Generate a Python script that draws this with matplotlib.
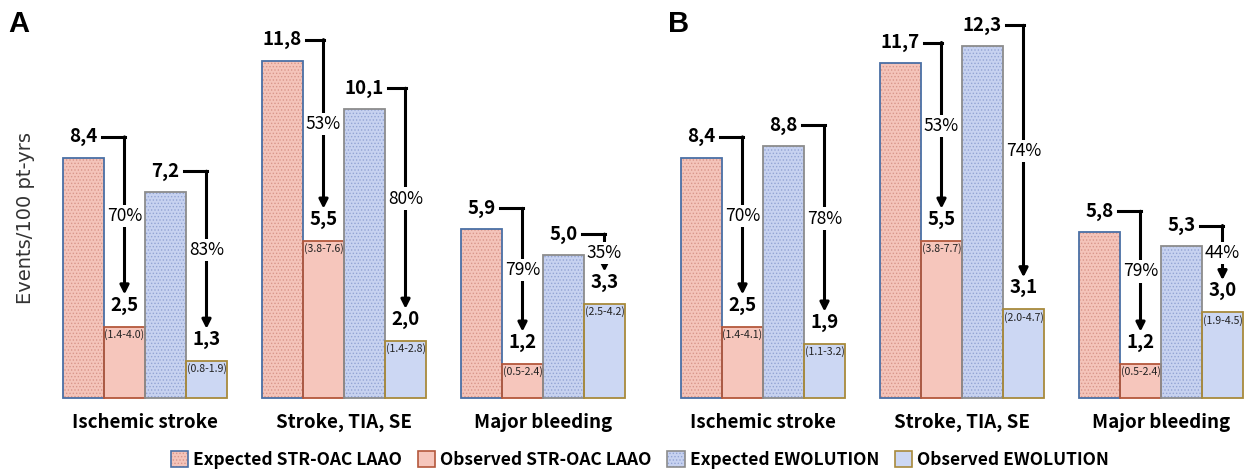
import numpy as np
import matplotlib
matplotlib.use("Agg")
import matplotlib.pyplot as plt
from matplotlib.patches import Patch

plt.rcParams['font.family'] = ['Noto Sans CJK JP', 'DejaVu Sans']
plt.rcParams['hatch.linewidth'] = 0.6

# data
categories = ['Ischemic stroke', 'Stroke, TIA, SE', 'Major bleeding']

exp_str_a = [8.4, 11.8, 5.9]
obs_str_a = [2.5, 5.5, 1.2]
exp_ewo_a = [7.2, 10.1, 5.0]
obs_ewo_a = [1.3, 2.0, 3.3]
ci_str_a = ['(1.4-4.0)', '(3.8-7.6)', '(0.5-2.4)']
ci_ewo_a = ['(0.8-1.9)', '(1.4-2.8)', '(2.5-4.2)']
red_str_a = ['70%', '53%', '79%']
red_ewo_a = ['83%', '80%', '35%']

exp_str_b = [8.4, 11.7, 5.8]
obs_str_b = [2.5, 5.5, 1.2]
exp_ewo_b = [8.8, 12.3, 5.3]
obs_ewo_b = [1.9, 3.1, 3.0]
ci_str_b = ['(1.4-4.1)', '(3.8-7.7)', '(0.5-2.4)']
ci_ewo_b = ['(1.1-3.2)', '(2.0-4.7)', '(1.9-4.5)']
red_str_b = ['70%', '53%', '79%']
red_ewo_b = ['78%', '74%', '44%']

legend_labels = ['Expected STR-OAC LAAO', 'Observed STR-OAC LAAO',
                 'Expected EWOLUTION', 'Observed EWOLUTION']

# styles: face, hatch colour, edge
STYLES = [
    dict(fc='#F4C4BA', hc='#D8968B', ec='#4A6FA5', hatch='.....'),
    dict(fc='#F6C6BC', hc=None, ec='#B4583C', hatch=None),
    dict(fc='#C7D2F0', hc='#93A4D4', ec='#8C8C8C', hatch='.....'),
    dict(fc='#CCD7F3', hc=None, ec='#A88A3C', hatch=None),
]

W, H = 1244, 473
PX_UNIT = 199.0
PX_Y = 28.6
BASE = 398
BW = 41 / PX_UNIT
YMAX = BASE / PX_Y

fig = plt.figure(figsize=(W / 100, H / 100), dpi=100)
renderer = fig.canvas.get_renderer()


def make_ax(center0_px):
    left = center0_px - 0.5 * PX_UNIT
    width = 2.92 * PX_UNIT
    ax = fig.add_axes([left / W, (H - BASE) / H, width / W, BASE / H])
    ax.set_xlim(-0.5, 2.42)
    ax.set_ylim(0, YMAX)
    ax.axis('off')
    return ax


def fmt(v):
    return f'{v:.1f}'.replace('.', ',')


def draw_bar(ax, x, h, st):
    if st['hatch']:
        ax.bar(x, h, BW, color=st['fc'], edgecolor=st['hc'], hatch=st['hatch'],
               linewidth=0, zorder=2, clip_on=False)
    else:
        ax.bar(x, h, BW, color=st['fc'], linewidth=0, zorder=2, clip_on=False)
    ax.bar(x, h, BW, fill=False, edgecolor=st['ec'], linewidth=1.3, zorder=3,
           clip_on=False)


def bracket(ax, x_exp, v_exp, x_obs, v_obs, pct):
    y0 = v_exp + 0.73
    t = ax.text(x_exp, y0, fmt(v_exp), ha='center', va='center', fontsize=13.5,
                fontweight='bold', zorder=5)
    bb = t.get_window_extent(renderer).transformed(ax.transData.inverted())
    x_start = bb.x1 + 0.02
    tip = v_obs + 1.12
    ax.plot([x_start, x_obs], [y0, y0], color='black', lw=2.2,
            solid_capstyle='projecting', zorder=4, clip_on=False)
    ax.annotate('', xy=(x_obs, tip), xytext=(x_obs, y0),
                arrowprops=dict(arrowstyle='-|>', lw=2.2, color='black',
                                mutation_scale=13, shrinkA=0, shrinkB=0),
                zorder=4)
    ax.text(x_obs, (y0 + tip) / 2, pct, ha='center', va='center', fontsize=12.5,
            zorder=6, bbox=dict(fc='white', ec='none', pad=1.5))
    ax.text(x_obs, v_obs + 0.75, fmt(v_obs), ha='center', va='center',
            fontsize=13.5, fontweight='bold', zorder=5)


def panel(ax, exp_s, obs_s, exp_e, obs_e, ci_s, ci_e, red_s, red_e):
    offs = np.array([-1.5, -0.5, 0.5, 1.5]) * BW
    for i, cat in enumerate(categories):
        xs = i + offs
        vals = [exp_s[i], obs_s[i], exp_e[i], obs_e[i]]
        for x, v, st in zip(xs, vals, STYLES):
            draw_bar(ax, x, v, st)
        ax.text(xs[1], obs_s[i] - 0.28, ci_s[i], ha='center', va='center',
                fontsize=7.6, color='#222222', zorder=5)
        ax.text(xs[3], obs_e[i] - 0.28, ci_e[i], ha='center', va='center',
                fontsize=7.6, color='#222222', zorder=5)
        bracket(ax, xs[0], exp_s[i], xs[1], obs_s[i], red_s[i])
        bracket(ax, xs[2], exp_e[i], xs[3], obs_e[i], red_e[i])
        ax.text(i, -0.87, cat, ha='center', va='center', fontsize=13.5,
                fontweight='bold')


ax_a = make_ax(145)
ax_b = make_ax(763)
panel(ax_a, exp_str_a, obs_str_a, exp_ewo_a, obs_ewo_a, ci_str_a, ci_ewo_a,
      red_str_a, red_ewo_a)
panel(ax_b, exp_str_b, obs_str_b, exp_ewo_b, obs_ewo_b, ci_str_b, ci_ewo_b,
      red_str_b, red_ewo_b)

fig.text(26 / W, 1 - 218 / H, 'Events/100 pt-yrs', rotation=90, ha='center',
         va='center', fontsize=14, color='#333333',
         family=['Liberation Sans Narrow', 'DejaVu Sans'])
fig.text(8 / W, 1 - 24 / H, 'A', fontsize=21, fontweight='bold', va='center',
         family=['Liberation Sans', 'DejaVu Sans'])
fig.text(668 / W, 1 - 24 / H, 'B', fontsize=21, fontweight='bold', va='center',
         family=['Liberation Sans', 'DejaVu Sans'])

handles = []
for st in STYLES:
    if st['hatch']:
        handles.append((Patch(fc=st['fc'], ec=st['hc'], hatch=st['hatch'], lw=0),
                        Patch(fill=False, ec=st['ec'], lw=1.2)))
    else:
        handles.append(Patch(fc=st['fc'], ec=st['ec'], lw=1.2))
fig.legend(handles, legend_labels, loc='center', ncol=4, frameon=False,
           bbox_to_anchor=(640 / W, 1 - 460 / H), handlelength=1.0,
           handleheight=1.0, handletextpad=0.3, columnspacing=0.9,
           prop=dict(size=12.5, weight='bold'))

fig.savefig('out.png', dpi=100)
